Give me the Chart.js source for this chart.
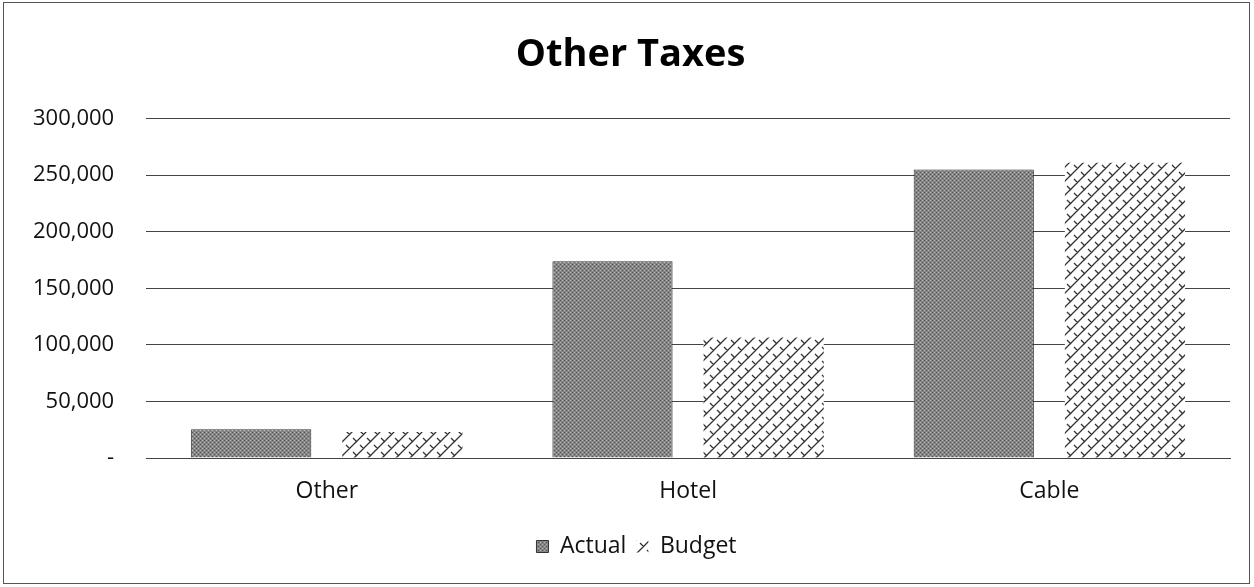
<!DOCTYPE html>
<html>
<head>
<meta charset="utf-8">
<script src="https://cdn.jsdelivr.net/npm/chart.js@4/dist/chart.umd.min.js"></script>
<style>
  body { margin: 0; background: #fff; }
  #wrap { width: 1254px; height: 587px; }
</style>
</head>
<body>
<div id="wrap"><canvas id="container" width="1254" height="587"></canvas></div>
<script>
var categories = ["Other", "Hotel", "Cable"];
var actual = [25500, 174000, 255000];
var budget = [23000, 106500, 261000];
var seriesNames = ["Actual", "Budget"];
var yTicks = [0, 50000, 100000, 150000, 200000, 250000, 300000];

// hatch pattern for budget bars
function makeHatch() {
  var c = document.createElement('canvas');
  c.width = 14; c.height = 14;
  var g = c.getContext('2d');
  g.fillStyle = '#fff';
  g.fillRect(0, 0, 14, 14);
  g.strokeStyle = '#333';
  g.lineWidth = 1.3;
  g.beginPath();
  g.moveTo(0, 14); g.lineTo(14, 0);
  g.moveTo(-7, 7); g.lineTo(7, -7);
  g.moveTo(7, 21); g.lineTo(21, 7);
  g.stroke();
  g.beginPath();
  g.moveTo(3, 4); g.lineTo(7, 8);
  g.moveTo(10, 11); g.lineTo(14, 15);
  g.stroke();
  return g.createPattern(c, 'repeat');
}

// grey dotted texture for actual bars
function makeGrey() {
  var c = document.createElement('canvas');
  c.width = 4; c.height = 4;
  var g = c.getContext('2d');
  g.fillStyle = '#858585';
  g.fillRect(0, 0, 4, 4);
  g.fillStyle = '#555';
  g.fillRect(0, 0, 1, 1); g.fillRect(2, 2, 1, 1);
  g.fillStyle = '#b5b5b5';
  g.fillRect(2, 0, 1, 1); g.fillRect(0, 2, 1, 1);
  return g.createPattern(c, 'repeat');
}

var frame = {
  id: 'frame',
  afterLayout: function (chart) {
    // title and legend sit a bit right of the plot centre
    chart.titleBlock.left += 15; chart.titleBlock.right += 15;
    chart.legend.left += 21; chart.legend.right += 21;
  },
  afterDraw: function (chart) {
    var ctx = chart.ctx;
    ctx.save();
    ctx.strokeStyle = '#555';
    ctx.lineWidth = 1;
    ctx.strokeRect(3.5, 2.5, 1246, 581);
    ctx.restore();
  }
};

Chart.defaults.font.family = '"Open Sans", Lato, sans-serif';
Chart.defaults.color = '#111';

new Chart("container", {
  type: 'bar',
  data: {
    labels: categories,
    datasets: [
      {
        label: seriesNames[0],
        data: actual,
        backgroundColor: makeGrey(),
        borderColor: '#333',
        borderWidth: 1,
        categoryPercentage: 0.837,
        barPercentage: 0.795
      },
      {
        label: seriesNames[1],
        data: budget,
        backgroundColor: makeHatch(),
        borderWidth: 0,
        categoryPercentage: 0.837,
        barPercentage: 0.795
      }
    ]
  },
  plugins: [frame],
  options: {
    responsive: false,
    animation: false,
    layout: { padding: { left: 1, right: 24, top: 32, bottom: 19 } },
    plugins: {
      title: {
        display: true,
        text: 'Other Taxes',
        font: { size: 38, weight: 'bold' },
        color: '#000',
        padding: { top: 0, bottom: 41 }
      },
      legend: {
        position: 'bottom',
        labels: {
          font: { size: 23 },
          boxWidth: 12,
          boxHeight: 12,
          padding: 10
        }
      },
      tooltip: { enabled: false }
    },
    scales: {
      x: {
        grid: { display: false, drawTicks: false },
        border: { color: '#444' },
        ticks: { font: { size: 23 }, padding: 20 },
        afterFit: function (scale) { scale.height = 67; }
      },
      y: {
        min: 0,
        max: 300000,
        afterBuildTicks: function (axis) {
          axis.ticks = yTicks.map(function (v) { return { value: v }; });
        },
        grid: { color: '#444', drawTicks: false },
        border: { display: false },
        ticks: {
          font: { size: 22 },
          padding: 32,
          callback: function (v) {
            return v === 0 ? '-' : v.toLocaleString('en-US');
          }
        }
      }
    }
  }
});
</script>
</body>
</html>
